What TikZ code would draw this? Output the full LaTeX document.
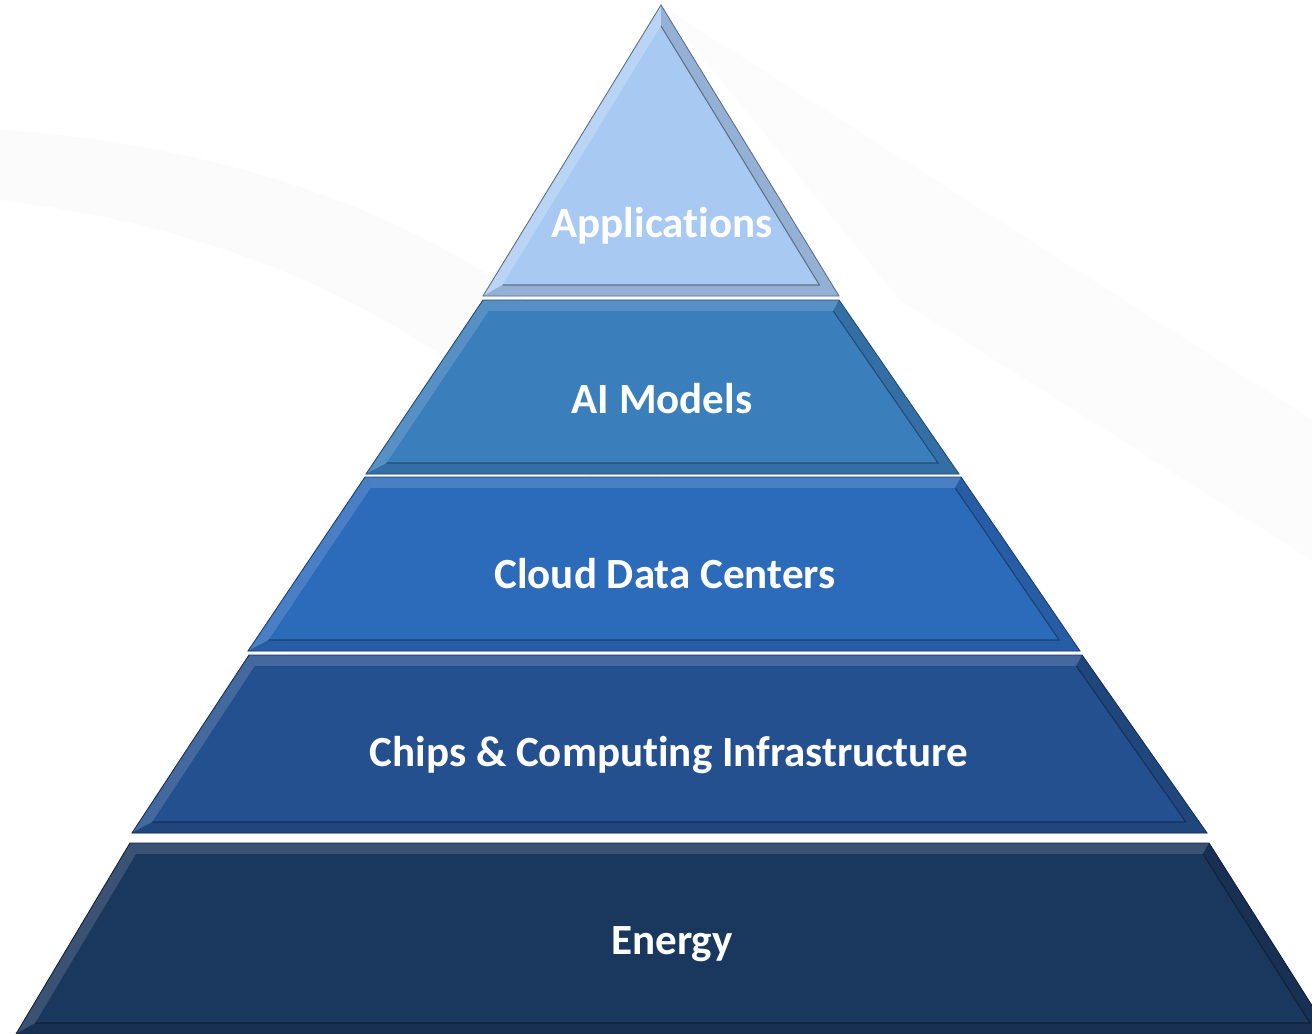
\documentclass[tikz,border=0pt]{standalone}
\usepackage{fontspec}
\setmainfont[Ligatures=CommonOff]{Carlito}
\usetikzlibrary{calc}

\definecolor{appsblue}{HTML}{A8C9F2}
\definecolor{modelsblue}{HTML}{3A7EBC}
\definecolor{cloudblue}{HTML}{2C6ABA}
\definecolor{chipsblue}{HTML}{24508F}
\definecolor{energyblue}{HTML}{1A375E}

% one bevelled tier: colour, top y, bottom y, top-left x, top-right x, bottom-left x, bottom-right x
\newcommand{\tier}[7]{%
  \pgfmathsetmacro{\trd}{11}
  \pgfmathsetmacro{\trsl}{(#4-#6)/(#3-#2)}
  \pgfmathsetmacro{\trsr}{(#7-#5)/(#3-#2)}
  \pgfmathsetmacro{\trkl}{sqrt(1+\trsl*\trsl)}
  \pgfmathsetmacro{\trkr}{sqrt(1+\trsr*\trsr)}
  \pgfmathsetmacro{\tritl}{#4-\trsl*\trd+\trd*\trkl}
  \pgfmathsetmacro{\tritr}{#5+\trsr*\trd-\trd*\trkr}
  \pgfmathsetmacro{\tribl}{#6+\trsl*\trd+\trd*\trkl}
  \pgfmathsetmacro{\tribr}{#7-\trsr*\trd-\trd*\trkr}
  \pgfmathsetmacro{\trit}{#2+\trd}
  \pgfmathsetmacro{\trib}{#3-\trd}
  \fill[#1] (#4,#2) -- (#5,#2) -- (#7,#3) -- (#6,#3) -- cycle;
  \fill[#1!86!white] (#4,#2) -- (#5,#2) -- (\tritr,\trit) -- (\tritl,\trit) -- cycle;
  \fill[#1!86!white] (#4,#2) -- (\tritl,\trit) -- (\tribl,\trib) -- (#6,#3) -- cycle;
  \fill[#1!88!black] (#5,#2) -- (#7,#3) -- (\tribr,\trib) -- (\tritr,\trit) -- cycle;
  \fill[#1!88!black] (#6,#3) -- (#7,#3) -- (\tribr,\trib) -- (\tribl,\trib) -- cycle;
  \fill[#1] (\tritl,\trit) -- (\tritr,\trit) -- (\tribr,\trib) -- (\tribl,\trib) -- cycle;
  \draw[#1!60!black, line width=0.6pt] (\tribl,\trib) -- (\tribr,\trib) -- (\tritr,\trit);
  \draw[#1!60!black, line width=0.5pt] (#4,#2) -- (#5,#2) -- (#7,#3) -- (#6,#3) -- cycle;
}

\begin{document}
\begin{tikzpicture}[
    x=0.02cm, y=-0.02cm,
    tierlabel/.style={text=white, anchor=base, font=\bfseries\fontsize{24.5}{29}\selectfont},
  ]
    \useasboundingbox (0,0) rectangle (1312,1034);
    \fill[white] (0,0) rectangle (1312,1034);

    % faint background swoosh
    \fill[gray!3] (0,130) .. controls (300,150) and (520,260) .. (660,420)
      -- (660,560) .. controls (480,330) and (250,230) .. (0,200) -- cycle;
    \fill[gray!2] (660,5) -- (1312,420) -- (1312,560) -- (900,300) -- cycle;

    % top tier (triangle)
    \fill[appsblue] (661,5) -- (839,296) -- (483,296) -- cycle;
    \fill[appsblue!80!white] (661,5) -- (661,26) -- (502.6,285) -- (483,296) -- cycle;
    \fill[appsblue!88!black] (661,5) -- (839,296) -- (819.4,285) -- (661,26) -- cycle;
    \fill[appsblue!88!black] (483,296) -- (839,296) -- (819.4,285) -- (502.6,285) -- cycle;
    \fill[appsblue] (661,26) -- (819.4,285) -- (502.6,285) -- cycle;
    \draw[appsblue!55!black, line width=0.6pt] (502.6,285) -- (819.4,285) -- (661,26);
    \draw[appsblue!55!black, line width=0.5pt] (661,5) -- (839,296) -- (483,296) -- cycle;

    % lower tiers
    \tier{modelsblue}{300}{474}{483}{839}{366}{959}
    \tier{cloudblue}{477}{651}{365}{961}{248}{1080}
    \tier{chipsblue}{655}{833}{249}{1082}{132}{1207}
    \tier{energyblue}{843}{1034}{130}{1209}{16}{1330}

    % labels
    \node[tierlabel] (apps) at (662,237) {Applications};
    \node[tierlabel] (models) at (662,413) {AI Models};
    \node[tierlabel] (cloud) at (665,588) {Cloud Data Centers};
    \node[tierlabel] (chips) at (669,766) {Chips \& Computing Infrastructure};
    \node[tierlabel] (energy) at (672,954) {Energy};
  \end{tikzpicture}
\end{document}
